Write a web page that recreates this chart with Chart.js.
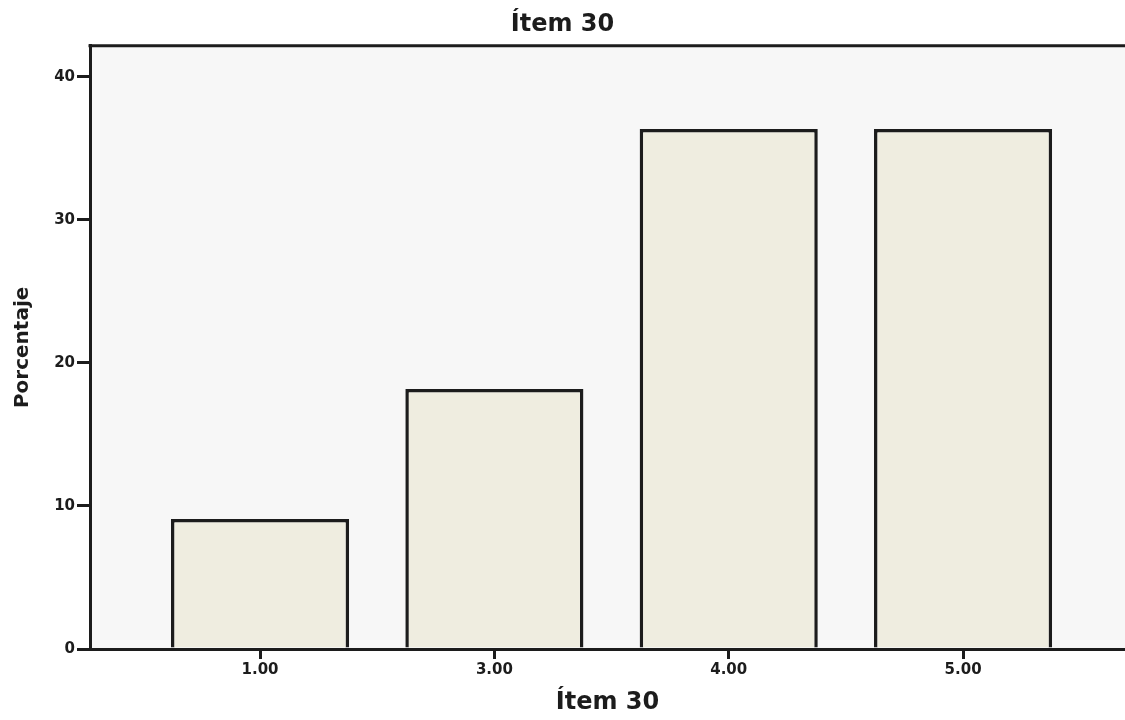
<!DOCTYPE html>
<html>
<head>
<meta charset="utf-8">
<script src="https://cdn.jsdelivr.net/npm/chart.js@4/dist/chart.umd.min.js"></script>
<style>
    html, body { margin: 0; padding: 0; background: #fff; }
    #wrap { width: 1125px; height: 720px; }
</style>
</head>
<body>
<div id="wrap"><canvas id="itemChart" width="1125" height="720"></canvas></div>
<script>
// Data
const categories = ['1.00', '3.00', '4.00', '5.00'];
const percentages = [9.09, 18.18, 36.36, 36.36];
const yTicks = [0, 10, 20, 30, 40];

const chartTitle = 'Ítem 30';
const xTitle = 'Ítem 30';
const yTitle = 'Porcentaje';

const fontFamily = '"DejaVu Sans", Arial, sans-serif';
const ink = '#1c1c1c';

// Plot background + top frame line (SPSS style)
const frameBackground = {
    id: 'frameBackground',
    beforeDraw: (chart) => {
        const { ctx, chartArea } = chart;
        ctx.save();
        ctx.fillStyle = '#f7f7f7';
        ctx.fillRect(chartArea.left, chartArea.top, chartArea.right - chartArea.left, chartArea.bottom - chartArea.top);
        ctx.restore();
    },
    afterDraw: (chart) => {
        const { ctx, chartArea } = chart;
        ctx.save();
        ctx.strokeStyle = ink;
        ctx.lineWidth = 3;
        ctx.beginPath();
        ctx.moveTo(chartArea.left - 1.5, chartArea.top);
        ctx.lineTo(chartArea.right, chartArea.top);
        ctx.stroke();
        ctx.restore();
    }
};

const ctx = document.getElementById('itemChart').getContext('2d');

const itemChart = new Chart(ctx, {
    type: 'bar',
    data: {
        datasets: [{
            label: 'Porcentaje',
            data: percentages.map((p, i) => ({ x: i, y: p })),
            backgroundColor: '#efede0',
            borderColor: ink,
            borderWidth: 3.5,
            borderSkipped: 'bottom',
            barPercentage: 0.76,
            categoryPercentage: 1
        }]
    },
    options: {
        responsive: false,
        animation: false,
        layout: { padding: 0 },
        plugins: {
            legend: { display: false },
            tooltip: { enabled: false },
            title: {
                display: true,
                text: chartTitle,
                color: ink,
                font: { family: fontFamily, size: 24, weight: 'bold' },
                padding: { top: 10, bottom: 7 }
            }
        },
        scales: {
            x: {
                type: 'linear',
                min: -0.7256,
                max: 3.691,
                offset: false,
                afterBuildTicks: (scale) => {
                    scale.ticks = categories.map((c, i) => ({ value: i }));
                },
                afterFit: (scale) => { scale.height = 71; },
                ticks: {
                    callback: (value) => categories[value],
                    color: ink,
                    font: { family: fontFamily, size: 15, weight: 'bold' },
                    padding: 2,
                    maxRotation: 0
                },
                grid: {
                    offset: false,
                    drawOnChartArea: false,
                    drawTicks: true,
                    tickLength: 10,
                    color: ink,
                    lineWidth: 3
                },
                border: { display: true, color: ink, width: 3, z: 1 },
                title: {
                    display: true,
                    text: xTitle,
                    color: ink,
                    font: { family: fontFamily, size: 24, weight: 'bold' },
                    padding: { top: 0, bottom: 3 }
                }
            },
            y: {
                min: 0,
                max: 42.17,
                afterBuildTicks: (scale) => {
                    scale.ticks = yTicks.map(v => ({ value: v }));
                },
                afterFit: (scale) => { scale.width = 90; },
                ticks: {
                    color: ink,
                    font: { family: fontFamily, size: 15, weight: 'bold' },
                    padding: 2
                },
                grid: {
                    drawOnChartArea: false,
                    drawTicks: true,
                    tickLength: 13,
                    color: ink,
                    lineWidth: 3
                },
                border: { display: true, color: ink, width: 3 },
                title: {
                    display: true,
                    text: yTitle,
                    color: ink,
                    font: { family: fontFamily, size: 20, weight: 'bold' },
                    padding: { top: 11, bottom: 0 }
                }
            }
        }
    },
    plugins: [frameBackground]
});
</script>
</body>
</html>
